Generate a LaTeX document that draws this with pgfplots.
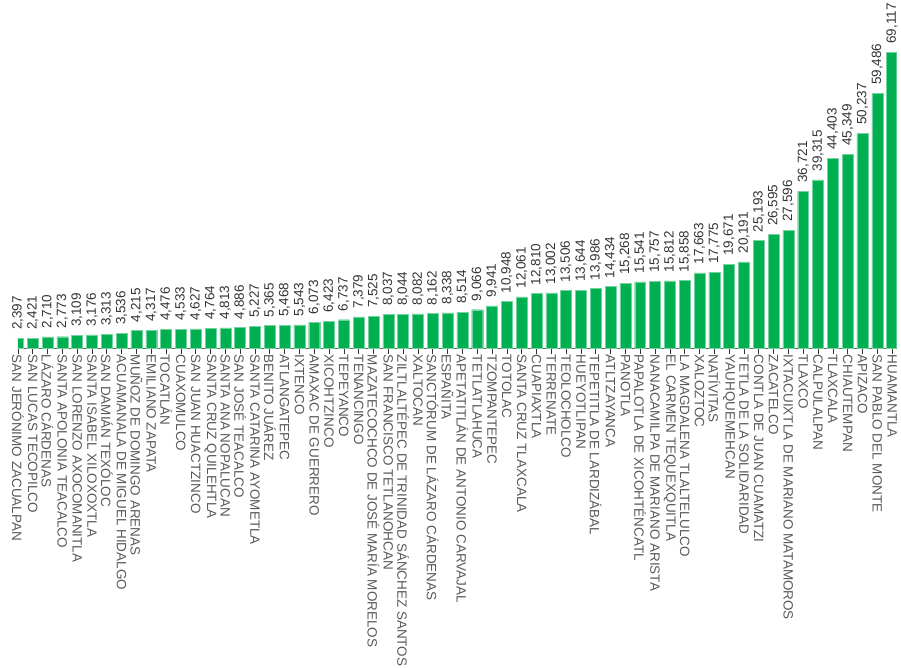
\documentclass[border={9pt 0pt 0pt 0pt}]{standalone}
\usepackage{fontspec}
\setmainfont{Liberation Sans}
\usepackage{pgfplots}
\pgfplotsset{compat=1.18}
\usepackage{pgfplotstable}

\definecolor{barg}{HTML}{00B050}
\definecolor{valtxt}{HTML}{333333}
\definecolor{cattxt}{HTML}{595959}

% poblacion por municipio, de menor a mayor
\pgfplotstableread{
idx pob
0 2397
1 2421
2 2710
3 2773
4 3109
5 3176
6 3313
7 3536
8 4215
9 4317
10 4476
11 4533
12 4627
13 4764
14 4813
15 4886
16 5227
17 5365
18 5468
19 5543
20 6073
21 6423
22 6737
23 7379
24 7525
25 8037
26 8044
27 8082
28 8162
29 8338
30 8514
31 9066
32 9941
33 10948
34 12061
35 12810
36 13002
37 13506
38 13644
39 13986
40 14434
41 15268
42 15541
43 15757
44 15812
45 15858
46 17663
47 17775
48 19671
49 20191
50 25193
51 26595
52 27596
53 36721
54 39315
55 44403
56 45349
57 50237
58 59486
59 69117
}\municipios

\begin{document}
\begin{tikzpicture}
\begin{axis}[
  scale only axis,
  width=880pt, height=297pt,
  xmin=0, xmax=59.3,
  ymin=0, ymax=69117,
  axis x line*=bottom,
  axis y line=none,
  axis line style={draw=gray!80!black, line width=0.8pt},
  xtick=data,
  xticklabels={SAN JERÓNIMO ZACUALPAN, SAN LUCAS TECOPILCO, LÁZARO CÁRDENAS,
    SANTA APOLONIA TEACALCO, SAN LORENZO AXOCOMANITLA, SANTA ISABEL XILOXOXTLA,
    SAN DAMIÁN TEXÓLOC, ACUAMANALA DE MIGUEL HIDALGO, MUÑOZ DE DOMINGO ARENAS,
    EMILIANO ZAPATA, TOCATLÁN, CUAXOMULCO, SAN JUAN HUACTZINCO,
    SANTA CRUZ QUILEHTLA, SANTA ANA NOPALUCAN, SAN JOSÉ TEACALCO,
    SANTA CATARINA AYOMETLA, BENITO JUÁREZ, ATLANGATEPEC, IXTENCO,
    AMAXAC DE GUERRERO, XICOHTZINCO, TEPEYANCO, TENANCINGO,
    MAZATECOCHCO DE JOSÉ MARÍA MORELOS, SAN FRANCISCO TETLANOHCAN,
    ZILTLALTÉPEC DE TRINIDAD SÁNCHEZ SANTOS, XALTOCAN,
    SANCTÓRUM DE LÁZARO CÁRDENAS, ESPAÑITA, APETATITLÁN DE ANTONIO CARVAJAL,
    TETLATLAHUCA, TZOMPANTEPEC, TOTOLAC, SANTA CRUZ TLAXCALA, CUAPIAXTLA,
    TERRENATE, TEOLOCHOLCO, HUEYOTLIPAN, TEPETITLA DE LARDIZÁBAL, ATLTZAYANCA,
    PANOTLA, PAPALOTLA DE XICOHTÉNCATL, NANACAMILPA DE MARIANO ARISTA,
    EL CARMEN TEQUEXQUITLA, LA MAGDALENA TLALTELULCO, XALOZTOC, NATÍVITAS,
    YAUHQUEMEHCAN, TETLA DE LA SOLIDARIDAD, CONTLA DE JUAN CUAMATZI, ZACATELCO,
    IXTACUIXTLA DE MARIANO MATAMOROS, TLAXCO, CALPULALPAN, TLAXCALA,
    CHIAUTEMPAN, APIZACO, SAN PABLO DEL MONTE, HUAMANTLA},
  tick align=outside,
  major tick length=5pt,
  x tick style={draw=black!80, line width=0.6pt},
  xticklabel style={rotate=-90, anchor=west, text=cattxt,
    font=\fontsize{13.5}{14}\selectfont, inner sep=1pt},
  nodes near coords,
  every node near coord/.append style={rotate=90, anchor=west, text=valtxt,
    font=\fontsize{13.5}{14}\selectfont, xshift=5pt},
  /pgf/number format/.cd, fixed, precision=0, 1000 sep={,}, assume math mode=true,
]
\addplot[ybar, bar width=0.74, fill=barg, draw=barg!55!white, line width=0.4pt]
  table[x=idx, y=pob] {\municipios};
\end{axis}
\end{tikzpicture}
\end{document}
